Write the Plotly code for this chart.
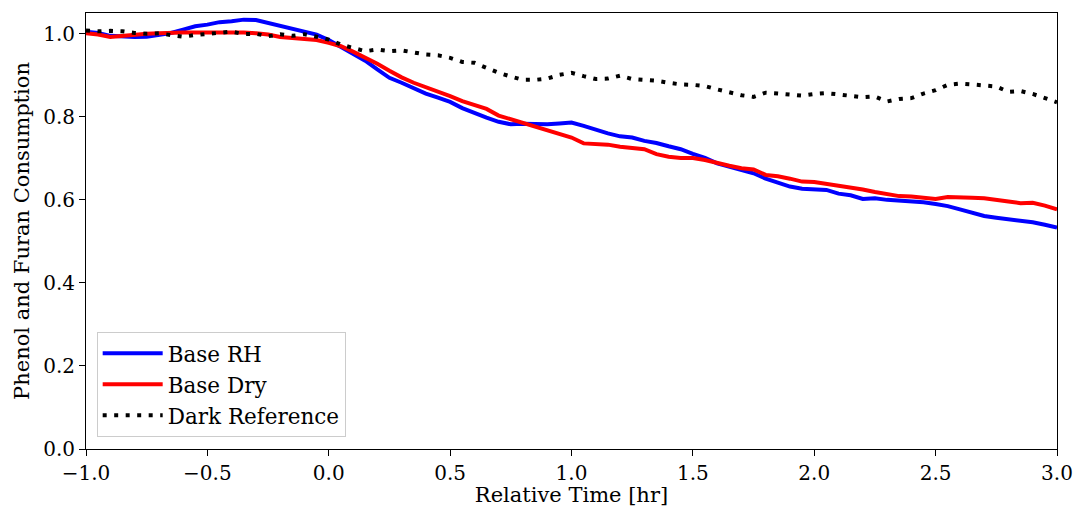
import plotly.graph_objs as go

# 相对时间 [hr]
times = [-1.00, -0.95, -0.90, -0.85, -0.80, -0.75, -0.70, -0.65, -0.60, -0.55,
         -0.50, -0.45, -0.40, -0.35, -0.30, -0.25, -0.20, -0.15, -0.10, -0.05,
         0.00, 0.05, 0.10, 0.15, 0.20, 0.25, 0.30, 0.35, 0.40, 0.45,
         0.50, 0.55, 0.60, 0.65, 0.70, 0.75, 0.80, 0.85, 0.90, 0.95,
         1.00, 1.05, 1.10, 1.15, 1.20, 1.25, 1.30, 1.35, 1.40, 1.45,
         1.50, 1.55, 1.60, 1.65, 1.70, 1.75, 1.80, 1.85, 1.90, 1.95,
         2.00, 2.05, 2.10, 2.15, 2.20, 2.25, 2.30, 2.35, 2.40, 2.45,
         2.50, 2.55, 2.60, 2.65, 2.70, 2.75, 2.80, 2.85, 2.90, 2.95,
         3.00]

base_rh = [1.005, 1.002, 0.995, 0.993, 0.992, 0.993, 0.997, 1.002, 1.010, 1.018,
           1.022, 1.028, 1.030, 1.034, 1.033, 1.026, 1.018, 1.011, 1.005, 0.998,
           0.985, 0.968, 0.952, 0.935, 0.914, 0.894, 0.882, 0.869, 0.856, 0.846,
           0.836, 0.821, 0.809, 0.798, 0.788, 0.782, 0.783, 0.782, 0.782, 0.784,
           0.786, 0.778, 0.768, 0.760, 0.753, 0.750, 0.742, 0.737, 0.729, 0.722,
           0.711, 0.701, 0.688, 0.680, 0.671, 0.664, 0.651, 0.641, 0.632, 0.627,
           0.626, 0.624, 0.615, 0.611, 0.602, 0.604, 0.600, 0.598, 0.597, 0.594,
           0.590, 0.585, 0.577, 0.568, 0.561, 0.557, 0.554, 0.550, 0.546, 0.540,
           0.533]

base_dry = [1.001, 0.998, 0.992, 0.995, 0.998, 1.000, 1.001, 1.003, 1.003, 1.003,
            1.003, 1.003, 1.004, 1.003, 1.001, 0.998, 0.992, 0.990, 0.988, 0.985,
            0.978, 0.970, 0.957, 0.943, 0.928, 0.911, 0.895, 0.882, 0.872, 0.862,
            0.850, 0.838, 0.828, 0.819, 0.803, 0.794, 0.787, 0.777, 0.769, 0.760,
            0.750, 0.736, 0.735, 0.733, 0.728, 0.725, 0.722, 0.710, 0.704, 0.701,
            0.701, 0.696, 0.688, 0.682, 0.676, 0.673, 0.660, 0.657, 0.651, 0.644,
            0.643, 0.639, 0.634, 0.629, 0.625, 0.619, 0.615, 0.609, 0.608, 0.606,
            0.602, 0.607, 0.605, 0.605, 0.604, 0.601, 0.596, 0.592, 0.593, 0.586,
            0.577]

dark_ref = [1.008, 1.006, 1.007, 1.006, 1.002, 1.000, 1.001, 0.996, 0.993, 0.997,
            1.000, 1.002, 1.005, 0.999, 1.000, 0.994, 0.999, 0.995, 0.999, 0.993,
            0.986, 0.974, 0.965, 0.958, 0.962, 0.958, 0.960, 0.954, 0.950, 0.948,
            0.942, 0.932, 0.930, 0.918, 0.906, 0.897, 0.889, 0.889, 0.892, 0.901,
            0.906, 0.898, 0.891, 0.892, 0.899, 0.891, 0.889, 0.887, 0.882, 0.878,
            0.877, 0.874, 0.866, 0.859, 0.852, 0.848, 0.858, 0.856, 0.853, 0.851,
            0.855, 0.857, 0.854, 0.851, 0.847, 0.849, 0.837, 0.843, 0.845, 0.856,
            0.864, 0.877, 0.880, 0.878, 0.875, 0.873, 0.860, 0.862, 0.855, 0.844,
            0.835]

x_ticks = [-1.0, -0.5, 0.0, 0.5, 1.0, 1.5, 2.0, 2.5, 3.0]
y_ticks = [0.0, 0.2, 0.4, 0.6, 0.8, 1.0]

FONT = 'DejaVu Serif'

trace1 = go.Scatter(x=times, y=base_rh, mode='lines', name='Base RH',
                    line=dict(color='rgb(0,0,255)', width=4))
trace2 = go.Scatter(x=times, y=base_dry, mode='lines', name='Base Dry',
                    line=dict(color='rgb(255,0,0)', width=4))
trace3 = go.Scatter(x=times, y=dark_ref, mode='lines', name='Dark Reference',
                    line=dict(color='black', width=4, dash='4px,7.5px'))

axis_style = dict(
    showline=True, linecolor='black', linewidth=1, mirror=True,
    ticks='outside', ticklen=6, tickwidth=1, tickcolor='black',
    showgrid=False, zeroline=False, tickformat='.1f', automargin=False,
    tickfont=dict(family=FONT, size=20, color='black'),
)

layout = go.Layout(
    width=1079, height=507,
    margin=go.layout.Margin(l=86, r=22, t=13, b=58),
    paper_bgcolor='white', plot_bgcolor='white',
    font=dict(family=FONT, color='black'),
    xaxis=dict(range=[-1, 3], tickvals=x_ticks,
               title=dict(text='Relative Time [hr]', font=dict(family=FONT, size=21), standoff=9),
               **axis_style),
    yaxis=dict(range=[0, 1.05], tickvals=y_ticks,
               title=dict(text='Phenol and Furan Consumption', font=dict(family=FONT, size=21), standoff=7),
               **axis_style),
    legend=dict(x=0.011, y=0.028, xanchor='left', yanchor='bottom',
                itemwidth=60, tracegroupgap=0,
                bgcolor='rgba(255,255,255,0.8)', bordercolor='#cccccc', borderwidth=1,
                font=dict(family=FONT, size=21.5, color='black')),
)

fig = go.Figure(data=[trace1, trace2, trace3], layout=layout)
# 去掉页面默认边距，图像从左上角开始
fig.write_html('out.html', config={'displayModeBar': False},
               post_script="document.body.style.margin='0';")
